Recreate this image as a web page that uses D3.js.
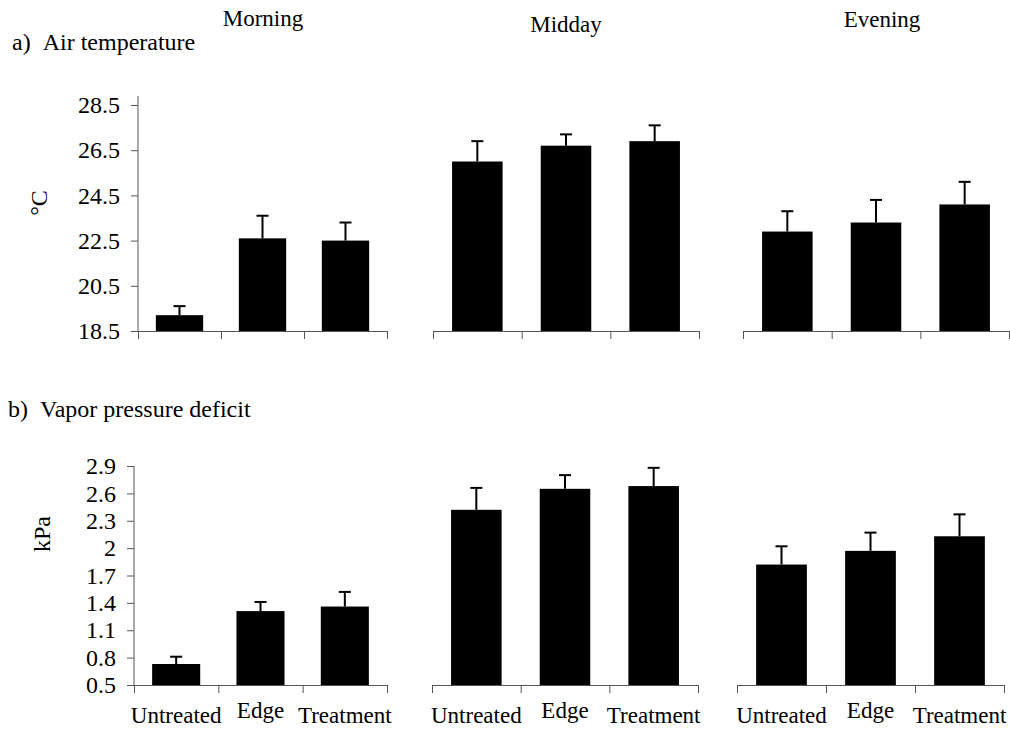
<!DOCTYPE html>
<html>
<head>
<meta charset="utf-8">
<script src="https://cdn.jsdelivr.net/npm/d3@7"></script>
<style>
  html, body { margin: 0; padding: 0; background: #fff; }
  svg { display: block; }
</style>
</head>
<body>
<svg id="chart" width="1010" height="729"></svg>
<script>
// ---- Data ----
const categories = ["Untreated", "Edge", "Treatment"];
const periods = ["Morning", "Midday", "Evening"];

// a) Air temperature (°C): means and upper error (SE) per period
const tempMorning = [19.2, 22.6, 22.5];
const tempMidday  = [26.0, 26.7, 26.9];
const tempEvening = [22.9, 23.3, 24.1];
const tempErrMorning = [0.4, 1.0, 0.8];
const tempErrMidday  = [0.9, 0.5, 0.7];
const tempErrEvening = [0.9, 1.0, 1.0];
const tempTicks = [18.5, 20.5, 22.5, 24.5, 26.5, 28.5];
const tempTickLabels = ["18.5", "20.5", "22.5", "24.5", "26.5", "28.5"];

// b) Vapor pressure deficit (kPa)
const vpdMorning = [0.73, 1.31, 1.36];
const vpdMidday  = [2.42, 2.65, 2.68];
const vpdEvening = [1.82, 1.97, 2.13];
const vpdErrMorning = [0.08, 0.10, 0.16];
const vpdErrMidday  = [0.24, 0.15, 0.20];
const vpdErrEvening = [0.20, 0.20, 0.24];
const vpdTicks = [0.5, 0.8, 1.1, 1.4, 1.7, 2.0, 2.3, 2.6, 2.9];
const vpdTickLabels = ["0.5", "0.8", "1.1", "1.4", "1.7", "2", "2.3", "2.6", "2.9"];

// ---- Layout ----
const FONT = "'Liberation Serif', 'DejaVu Serif', Tinos, 'Times New Roman', Times, serif";
const svg = d3.select("#chart");
const axisColor = "#555";

function txt(sel, size) {
  return sel.attr("font-family", FONT).style("font-family", FONT)
    .style("font-size", size + "px").attr("fill", "#000");
}

const rows = [
  {
    title: "a)\u00a0\u00a0Air temperature", titleX: 12, titleY: 50,
    unit: "°C", unitX: 47, unitY: 203,
    domain: [18.5, 28.5], range: [331, 105], extraTop: 9,
    ticks: tempTicks, tickLabels: tempTickLabels,
    means: [tempMorning, tempMidday, tempEvening],
    errs: [tempErrMorning, tempErrMidday, tempErrEvening],
    xRanges: [[138, 387], [433, 699], [743, 1009]],
    showCats: false
  },
  {
    title: "b)\u00a0\u00a0Vapor pressure deficit", titleX: 8, titleY: 417,
    unit: "kPa", unitX: 50, unitY: 534,
    domain: [0.5, 2.9], range: [685, 466], extraTop: 0,
    ticks: vpdTicks, tickLabels: vpdTickLabels,
    means: [vpdMorning, vpdMidday, vpdEvening],
    errs: [vpdErrMorning, vpdErrMidday, vpdErrEvening],
    xRanges: [[134, 387], [432, 698], [737, 1004]],
    showCats: true
  }
];

const periodTitlePos = [{x: 263, y: 26}, {x: 566, y: 32}, {x: 882, y: 27}];

periods.forEach((p, i) => {
  txt(svg.append("text"), 23)
    .attr("x", periodTitlePos[i].x).attr("y", periodTitlePos[i].y)
    .attr("text-anchor", "middle")
    .text(p);
});

rows.forEach(row => {
  const y = d3.scaleLinear().domain(row.domain).range(row.range);

  txt(svg.append("text"), 24)
    .attr("x", row.titleX).attr("y", row.titleY)
    .text(row.title);

  txt(svg.append("text"), 24)
    .attr("transform", `translate(${row.unitX},${row.unitY}) rotate(-90)`)
    .attr("text-anchor", "middle")
    .text(row.unit);

  row.xRanges.forEach((xr, pi) => {
    const g = svg.append("g");
    const x = d3.scaleBand().domain(categories).range(xr)
      .paddingInner(0.43).paddingOuter(0.215);
    const xb = d3.scaleLinear().domain([0, categories.length]).range(xr);

    if (pi === 0) {
      const yAxis = d3.axisLeft(y)
        .tickValues(row.ticks)
        .tickFormat((d, i) => row.tickLabels[i])
        .tickSize(7).tickPadding(11);
      const ga = g.append("g").attr("transform", `translate(${xr[0]},0)`).call(yAxis);
      ga.attr("font-family", FONT);
      ga.select(".domain").remove();
      ga.append("line")
        .attr("x1", 0).attr("x2", 0)
        .attr("y1", y(row.domain[0])).attr("y2", y(row.domain[1]) - row.extraTop)
        .attr("stroke", axisColor);
      ga.selectAll(".tick line").attr("stroke", axisColor);
      txt(ga.selectAll(".tick text"), 24);
    }

    const data = categories.map((c, i) => ({c, v: row.means[pi][i], e: row.errs[pi][i]}));
    g.selectAll("rect.bar").data(data).enter().append("rect")
      .attr("class", "bar")
      .attr("x", d => x(d.c))
      .attr("width", x.bandwidth())
      .attr("y", d => y(d.v))
      .attr("height", d => y(row.domain[0]) - y(d.v))
      .attr("fill", "#000");

    const capW = 12;
    g.selectAll("line.err").data(data).enter().append("line")
      .attr("class", "err")
      .attr("x1", d => x(d.c) + x.bandwidth() / 2)
      .attr("x2", d => x(d.c) + x.bandwidth() / 2)
      .attr("y1", d => y(d.v))
      .attr("y2", d => y(d.v + d.e))
      .attr("stroke", "#000").attr("stroke-width", 2);
    g.selectAll("line.cap").data(data).enter().append("line")
      .attr("class", "cap")
      .attr("x1", d => x(d.c) + x.bandwidth() / 2 - capW / 2)
      .attr("x2", d => x(d.c) + x.bandwidth() / 2 + capW / 2)
      .attr("y1", d => y(d.v + d.e))
      .attr("y2", d => y(d.v + d.e))
      .attr("stroke", "#000").attr("stroke-width", 2);

    const xAxis = d3.axisBottom(xb).tickValues(d3.range(categories.length + 1))
      .tickFormat("").tickSize(8).tickSizeOuter(0);
    const gx = g.append("g").attr("transform", `translate(0,${y(row.domain[0])})`).call(xAxis);
    gx.select(".domain").attr("stroke", axisColor);
    gx.selectAll(".tick line").attr("stroke", axisColor);

    if (row.showCats) {
      txt(g.selectAll("text.cat").data(categories).enter().append("text"), 23)
        .attr("class", "cat")
        .attr("x", d => x(d) + x.bandwidth() / 2)
        .attr("y", d => d === "Edge" ? 718 : 723)
        .attr("text-anchor", "middle")
        .text(d => d);
    }
  });
});
</script>
</body>
</html>
